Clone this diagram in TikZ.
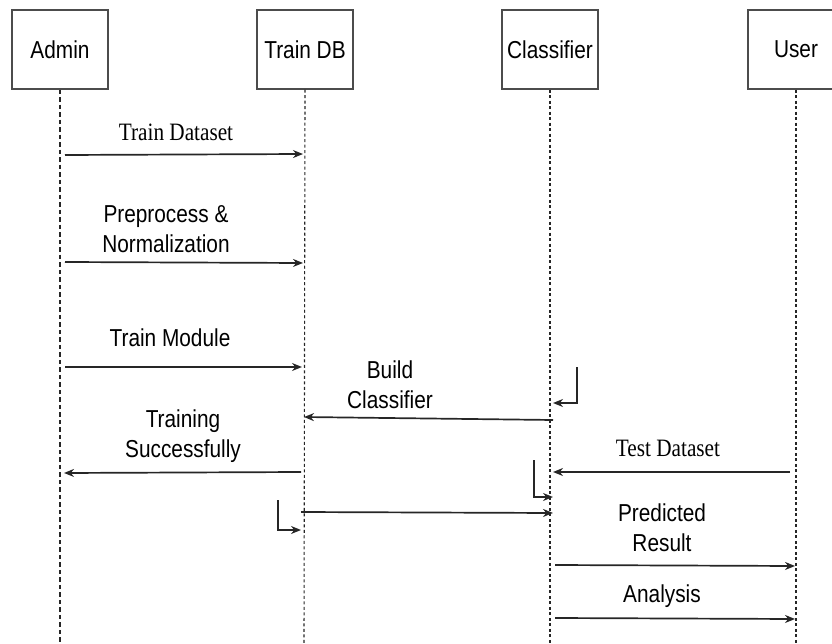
\documentclass[tikz,border=0pt]{standalone}
\usepackage{fontspec}
\setmainfont{Liberation Sans}[FakeStretch=0.85]
\newfontfamily\serifface{Liberation Serif}[FakeStretch=0.85]
\usetikzlibrary{arrows.meta}

\begin{document}
\begin{tikzpicture}[x=1pt,y=-1pt,
  actor/.style={draw=black!70, line width=1.5pt, minimum width=96pt,
    minimum height=79pt, inner sep=0pt, font=\fontsize{24.5}{28}\selectfont},
  lifeline/.style={draw=black!85, line width=1.1pt, dash pattern=on 3pt off 2.5pt},
  adminline/.style={lifeline, dash pattern=on 4.5pt off 3pt},
  msg/.style={draw=black!85, line width=1.7pt, -{Stealth[length=10pt,width=8pt]}},
  lbl/.style={font=\fontsize{24.5}{30}\selectfont, align=center, inner sep=0pt},
  slbl/.style={font=\serifface\fontsize{25}{28}\selectfont, inner sep=0pt}]

\useasboundingbox (0,0) rectangle (832,644);

% participants
\node[actor] (admin) at (60,49.5) {Admin};
\node[actor] (db)    at (305,49.5) {Train DB};
\node[actor] (clf)   at (550,49.5) {Classifier};
\node[actor] (user)  at (796,49.5) {User};

% lifelines
\coordinate (adminEnd) at (60,644);
\coordinate (dbEnd)    at (304,644);
\coordinate (clfEnd)   at (550,644);
\coordinate (userEnd)  at (796,644);
\draw[adminline] (admin.south) -- (adminEnd);
\draw[lifeline]  (db.south)    -- (dbEnd);
\draw[lifeline]  (clf.south)   -- (clfEnd);
\draw[lifeline]  (user.south)  -- (userEnd);

% message end points
\coordinate (m1a) at (65,155);   \coordinate (m1b) at (303,154);
\coordinate (m2a) at (65,262);   \coordinate (m2b) at (303,263);
\coordinate (m3a) at (65,367);   \coordinate (m3b) at (302,367);
\coordinate (m4a) at (553,420);  \coordinate (m4b) at (304,417);
\coordinate (s1a) at (577,367);  \coordinate (s1b) at (553,403);
\coordinate (m5a) at (301,472);  \coordinate (m5b) at (64,473);
\coordinate (m6a) at (790,472);  \coordinate (m6b) at (553,472);
\coordinate (s2a) at (534,460);  \coordinate (s2b) at (553,497);
\coordinate (m7a) at (301,512);  \coordinate (m7b) at (553,513);
\coordinate (s3a) at (278,500);  \coordinate (s3b) at (301,530);
\coordinate (m8a) at (555,565);  \coordinate (m8b) at (795,566);
\coordinate (m9a) at (555,618);  \coordinate (m9b) at (795,619);

% messages
\draw[msg] (m1a) -- (m1b);
\draw[msg] (m2a) -- (m2b);
\draw[msg] (m3a) -- (m3b);
\draw[msg] (m4a) -- (m4b);
\draw[msg] (s1a) |- (s1b);
\draw[msg] (m5a) -- (m5b);
\draw[msg] (m6a) -- (m6b);
\draw[msg] (s2a) |- (s2b);
\draw[msg] (m7a) -- (m7b);
\draw[msg] (s3a) |- (s3b);
\draw[msg] (m8a) -- (m8b);
\draw[msg] (m9a) -- (m9b);

% message labels
\node[slbl] (l1) at (176,132) {Train Dataset};
\node[lbl]  (l2) at (166,229) {Preprocess \&\\Normalization};
\node[lbl]  (l3) at (170,338) {Train Module};
\node[lbl]  (l4) at (390,385) {Build\\Classifier};
\node[lbl]  (l5) at (183,436) {Training\\Successfully};
\node[slbl] (l6) at (668,448) {Test Dataset};
\node[lbl]  (l7) at (662,528) {Predicted\\Result};
\node[lbl]  (l8) at (662,596) {Analysis};
\end{tikzpicture}
\end{document}
